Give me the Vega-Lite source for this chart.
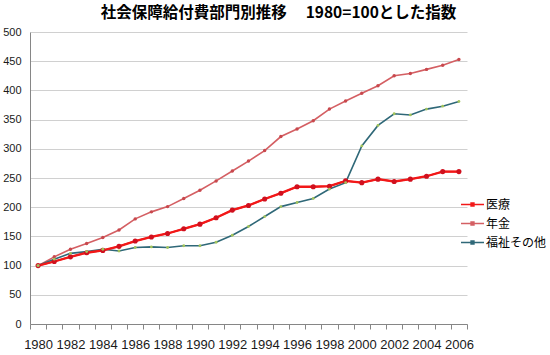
{
  "$schema": "https://vega.github.io/schema/vega-lite/v6.json",
  "width": 437,
  "height": 292,
  "autosize": "none",
  "padding": {"left": 30, "top": 32, "right": 83, "bottom": 31},
  "background": "white",
  "config": {"view": {"stroke": null}, "font": "Liberation Sans"},
  "title": {
    "text": "社会保障給付費部門別推移　 1980=100とした指数",
    "font": "Noto Sans CJK JP",
    "fontSize": 15.5,
    "fontWeight": "bold",
    "color": "#000000",
    "anchor": "middle",
    "frame": "group",
    "dx": 30,
    "offset": 5
  },
  "datasets": {
    "d": [
      {"year": 1980, "series": "医療", "value": 100},
      {"year": 1981, "series": "医療", "value": 107},
      {"year": 1982, "series": "医療", "value": 115},
      {"year": 1983, "series": "医療", "value": 122},
      {"year": 1984, "series": "医療", "value": 126},
      {"year": 1985, "series": "医療", "value": 133},
      {"year": 1986, "series": "医療", "value": 142},
      {"year": 1987, "series": "医療", "value": 149},
      {"year": 1988, "series": "医療", "value": 155},
      {"year": 1989, "series": "医療", "value": 163},
      {"year": 1990, "series": "医療", "value": 171},
      {"year": 1991, "series": "医療", "value": 182},
      {"year": 1992, "series": "医療", "value": 195},
      {"year": 1993, "series": "医療", "value": 203},
      {"year": 1994, "series": "医療", "value": 214},
      {"year": 1995, "series": "医療", "value": 224},
      {"year": 1996, "series": "医療", "value": 235},
      {"year": 1997, "series": "医療", "value": 235},
      {"year": 1998, "series": "医療", "value": 236},
      {"year": 1999, "series": "医療", "value": 245},
      {"year": 2000, "series": "医療", "value": 242},
      {"year": 2001, "series": "医療", "value": 248},
      {"year": 2002, "series": "医療", "value": 244},
      {"year": 2003, "series": "医療", "value": 248},
      {"year": 2004, "series": "医療", "value": 253},
      {"year": 2005, "series": "医療", "value": 261},
      {"year": 2006, "series": "医療", "value": 261},
      {"year": 1980, "series": "年金", "value": 100},
      {"year": 1981, "series": "年金", "value": 115},
      {"year": 1982, "series": "年金", "value": 128},
      {"year": 1983, "series": "年金", "value": 138},
      {"year": 1984, "series": "年金", "value": 148},
      {"year": 1985, "series": "年金", "value": 161},
      {"year": 1986, "series": "年金", "value": 180},
      {"year": 1987, "series": "年金", "value": 192},
      {"year": 1988, "series": "年金", "value": 201},
      {"year": 1989, "series": "年金", "value": 215},
      {"year": 1990, "series": "年金", "value": 229},
      {"year": 1991, "series": "年金", "value": 245},
      {"year": 1992, "series": "年金", "value": 262},
      {"year": 1993, "series": "年金", "value": 279},
      {"year": 1994, "series": "年金", "value": 297},
      {"year": 1995, "series": "年金", "value": 321},
      {"year": 1996, "series": "年金", "value": 334},
      {"year": 1997, "series": "年金", "value": 348},
      {"year": 1998, "series": "年金", "value": 368},
      {"year": 1999, "series": "年金", "value": 382},
      {"year": 2000, "series": "年金", "value": 395},
      {"year": 2001, "series": "年金", "value": 408},
      {"year": 2002, "series": "年金", "value": 425},
      {"year": 2003, "series": "年金", "value": 429},
      {"year": 2004, "series": "年金", "value": 436},
      {"year": 2005, "series": "年金", "value": 443},
      {"year": 2006, "series": "年金", "value": 453},
      {"year": 1980, "series": "福祉その他", "value": 100},
      {"year": 1981, "series": "福祉その他", "value": 111},
      {"year": 1982, "series": "福祉その他", "value": 121},
      {"year": 1983, "series": "福祉その他", "value": 124},
      {"year": 1984, "series": "福祉その他", "value": 128},
      {"year": 1985, "series": "福祉その他", "value": 125},
      {"year": 1986, "series": "福祉その他", "value": 131},
      {"year": 1987, "series": "福祉その他", "value": 132},
      {"year": 1988, "series": "福祉その他", "value": 131},
      {"year": 1989, "series": "福祉その他", "value": 134},
      {"year": 1990, "series": "福祉その他", "value": 134},
      {"year": 1991, "series": "福祉その他", "value": 140},
      {"year": 1992, "series": "福祉その他", "value": 152},
      {"year": 1993, "series": "福祉その他", "value": 167},
      {"year": 1994, "series": "福祉その他", "value": 184},
      {"year": 1995, "series": "福祉その他", "value": 201},
      {"year": 1996, "series": "福祉その他", "value": 208},
      {"year": 1997, "series": "福祉その他", "value": 215},
      {"year": 1998, "series": "福祉その他", "value": 231},
      {"year": 1999, "series": "福祉その他", "value": 242},
      {"year": 2000, "series": "福祉その他", "value": 305},
      {"year": 2001, "series": "福祉その他", "value": 340},
      {"year": 2002, "series": "福祉その他", "value": 360},
      {"year": 2003, "series": "福祉その他", "value": 358},
      {"year": 2004, "series": "福祉その他", "value": 368},
      {"year": 2005, "series": "福祉その他", "value": 373},
      {"year": 2006, "series": "福祉その他", "value": 381}
    ]
  },
  "data": {"name": "d"},
  "encoding": {
    "x": {
      "field": "year",
      "type": "ordinal",
      "scale": {"type": "band", "paddingInner": 0, "paddingOuter": 0},
      "axis": {
        "title": null,
        "labelAngle": 0,
        "labelOverlap": false,
        "labelExpr": "datum.value % 2 === 0 ? datum.label : ''",
        "labelFont": "Liberation Sans",
        "labelFontSize": 13,
        "labelColor": "#1a1a1a",
        "labelPadding": 9,
        "tickBand": "extent",
        "tickSize": 5,
        "tickColor": "#868686",
        "domainColor": "#868686",
        "grid": false
      }
    },
    "y": {
      "field": "value",
      "type": "quantitative",
      "scale": {"domain": [0, 500], "nice": false},
      "axis": {
        "title": null,
        "values": [0, 50, 100, 150, 200, 250, 300, 350, 400, 450, 500],
        "ticks": false,
        "labelPadding": 9,
        "labelFont": "Liberation Sans",
        "labelFontSize": 11,
        "labelColor": "#1a1a1a",
        "domainColor": "#868686",
        "gridColor": "#D0D0D0",
        "gridWidth": 1
      }
    }
  },
  "layer": [
    {
      "mark": {"type": "line", "strokeWidth": 1.6},
      "encoding": {
        "color": {
          "field": "series",
          "type": "nominal",
          "scale": {"domain": ["医療", "年金", "福祉その他"], "range": ["#F21818", "#D45F63", "#2F6878"]},
          "legend": {
            "title": null,
            "orient": "none",
            "legendX": 430,
            "legendY": 160,
            "symbolType": "M-1,0H1M-0.12,-0.12H0.12V0.12H-0.12Z",
            "symbolSize": 529,
            "symbolStrokeWidth": 1.6,
            "rowPadding": -3.5,
            "labelOffset": 1,
            "labelFont": "Noto Sans CJK JP",
            "labelFontSize": 12,
            "labelColor": "#000000"
          }
        }
      }
    },
    {
      "transform": [{"filter": "datum.series === '医療'"}],
      "mark": {"type": "line", "strokeWidth": 2.3, "color": "#F21818"}
    },
    {
      "transform": [{"filter": "datum.series === '医療'"}],
      "mark": {"type": "point", "filled": true, "opacity": 1, "size": 26, "color": "#D0101E"}
    },
    {
      "transform": [{"filter": "datum.series === '年金'"}],
      "mark": {"type": "point", "filled": true, "opacity": 1, "size": 12, "color": "#C8484D"}
    },
    {
      "transform": [{"filter": "datum.series === '福祉その他'"}],
      "mark": {"type": "point", "filled": true, "opacity": 1, "size": 8, "color": "#A3C45C"}
    }
  ]
}
